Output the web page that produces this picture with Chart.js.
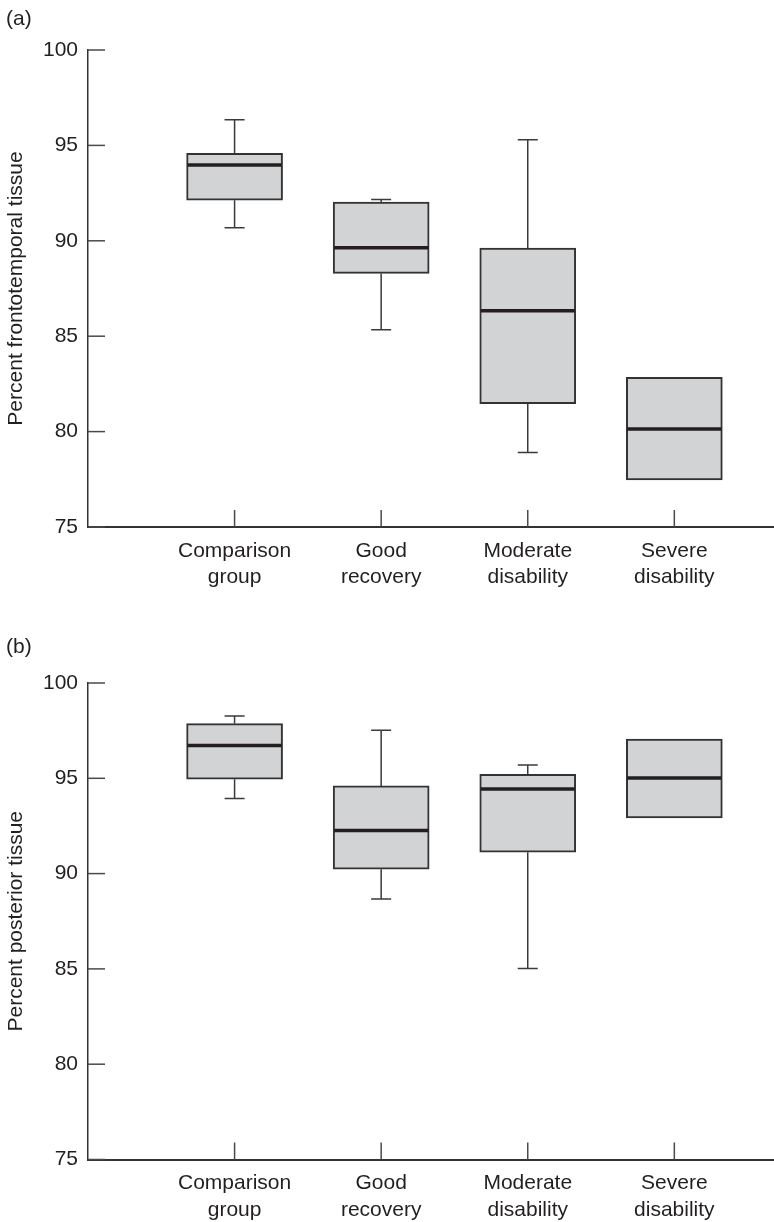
<!DOCTYPE html>
<html>
<head>
<meta charset="utf-8">
<script src="https://cdn.jsdelivr.net/npm/chart.js@4.4.0/dist/chart.umd.min.js"></script>
<style>
  body { margin: 0; background: #fff; }
  .panel { position: relative; width: 774px; height: 611px; }
  .tag { position: absolute; left: 6px; font: 21px "Liberation Sans", Arial, sans-serif; color: #231f20; line-height: 24px; }
</style>
</head>
<body>
<div class="panel"><div class="tag" style="top:6px">(a)</div><canvas id="chart-a"></canvas></div>
<div class="panel"><div class="tag" style="top:23px">(b)</div><canvas id="chart-b"></canvas></div>
<script>
var categories = [["Comparison", "group"], ["Good", "recovery"], ["Moderate", "disability"], ["Severe", "disability"]];
var yTicks = [75, 80, 85, 90, 95, 100];

// (a) frontotemporal tissue
var frontoMin = [90.69, 85.34, 78.9, null];
var frontoQ1 = [92.13, 88.29, 81.47, 77.47];
var frontoMed = [93.97, 89.64, 86.33, 80.13];
var frontoQ3 = [94.58, 92.03, 89.62, 82.85];
var frontoMax = [96.35, 92.17, 95.3, null];

// (b) posterior tissue
var postMin = [93.94, 88.67, 85.02, null];
var postQ1 = [94.95, 90.23, 91.12, 92.92];
var postMed = [96.72, 92.26, 94.44, 95.02];
var postQ3 = [97.87, 94.6, 95.21, 97.06];
var postMax = [98.27, 97.52, 95.7, null];

var textColor = "#231f20";
var fontFamily = "'Liberation Sans', Arial, sans-serif";

// whiskers, medians and inward tick marks
var boxPlugin = {
  id: "boxExtras",
  beforeDatasetsDraw: function (chart, args, opts) {
    var ctx = chart.ctx;
    var x = chart.scales.x;
    var y = chart.scales.y;
    var area = chart.chartArea;
    ctx.save();
    ctx.strokeStyle = "#4a4a4a";
    ctx.lineWidth = 1.5;
    // tick marks pointing into the plot
    yTicks.forEach(function (v) {
      var py = y.getPixelForValue(v);
      ctx.beginPath();
      ctx.moveTo(area.left, py);
      ctx.lineTo(area.left + 17, py);
      ctx.stroke();
    });
    categories.forEach(function (c, i) {
      var px = x.getPixelForValue(i + 1);
      ctx.beginPath();
      ctx.moveTo(px, area.bottom);
      ctx.lineTo(px, area.bottom - 17);
      ctx.stroke();
    });
    ctx.strokeStyle = "#3a3a3a";
    for (var i = 0; i < categories.length; i++) {
      var px = x.getPixelForValue(i + 1);
      var ends = [[opts.max[i], opts.q3[i]], [opts.min[i], opts.q1[i]]];
      ends.forEach(function (e) {
        if (e[0] == null) return;
        var p0 = y.getPixelForValue(e[0]);
        var p1 = y.getPixelForValue(e[1]);
        ctx.beginPath();
        ctx.moveTo(px, p0);
        ctx.lineTo(px, p1);
        ctx.moveTo(px - 10, p0);
        ctx.lineTo(px + 10, p0);
        ctx.stroke();
      });
    }
    ctx.restore();
  },
  afterDatasetsDraw: function (chart, args, opts) {
    var ctx = chart.ctx;
    var x = chart.scales.x;
    var y = chart.scales.y;
    ctx.save();
    ctx.strokeStyle = "#231f20";
    ctx.lineWidth = 3.5;
    for (var i = 0; i < categories.length; i++) {
      var px = x.getPixelForValue(i + 1);
      var py = y.getPixelForValue(opts.med[i]);
      ctx.beginPath();
      ctx.moveTo(px - 47, py);
      ctx.lineTo(px + 47, py);
      ctx.stroke();
    }
    ctx.restore();
  },
};

function makeChart(id, title, mn, q1, med, q3, mx, topPad, xHeight) {
  var ctx = document.getElementById(id).getContext("2d");
  return new Chart(ctx, {
    type: "bar",
    data: {
      datasets: [
        {
          data: categories.map(function (c, i) {
            return { x: i + 1, y: [q1[i], q3[i]] };
          }),
          backgroundColor: "#d2d3d5",
          borderColor: "#333333",
          borderWidth: 2,
          borderSkipped: false,
          barThickness: 96,
        },
      ],
    },
    options: {
      responsive: true,
      maintainAspectRatio: false,
      animation: false,
      layout: { padding: { top: topPad, right: 0, left: 0, bottom: 0 } },
      plugins: {
        legend: { display: false },
        tooltip: { enabled: false },
        boxExtras: { min: mn, q1: q1, med: med, q3: q3, max: mx },
      },
      scales: {
        x: {
          type: "linear",
          min: 0,
          max: 4.68,
          offset: false,
          afterBuildTicks: function (scale) {
            scale.ticks = categories.map(function (c, i) {
              return { value: i + 1 };
            });
          },
          afterFit: function (scale) {
            scale.height = xHeight;
          },
          grid: { display: false, drawTicks: false },
          border: { display: true, color: "#333333", width: 2 },
          ticks: {
            autoSkip: false,
            maxRotation: 0,
            padding: 11,
            color: textColor,
            font: { size: 21, family: fontFamily, lineHeight: 1.25 },
            callback: function (value) {
              return categories[value - 1];
            },
          },
        },
        y: {
          min: 75,
          max: 100,
          afterBuildTicks: function (scale) {
            scale.ticks = yTicks.map(function (v) {
              return { value: v };
            });
          },
          afterFit: function (scale) {
            scale.width = 88;
          },
          grid: { display: false, drawTicks: false },
          border: { display: true, color: "#333333", width: 1.5 },
          ticks: {
            padding: 10,
            color: textColor,
            font: { size: 21, family: fontFamily },
          },
          title: {
            display: true,
            text: title,
            color: textColor,
            padding: { top: 4, bottom: 0 },
            font: { size: 21, family: fontFamily, lineHeight: 1.2 },
          },
        },
      },
    },
    plugins: [boxPlugin],
  });
}

makeChart("chart-a", "Percent frontotemporal tissue", frontoMin, frontoQ1, frontoMed, frontoQ3, frontoMax, 50, 84);
makeChart("chart-b", "Percent posterior tissue", postMin, postQ1, postMed, postQ3, postMax, 72, 62.5);
</script>
</body>
</html>
